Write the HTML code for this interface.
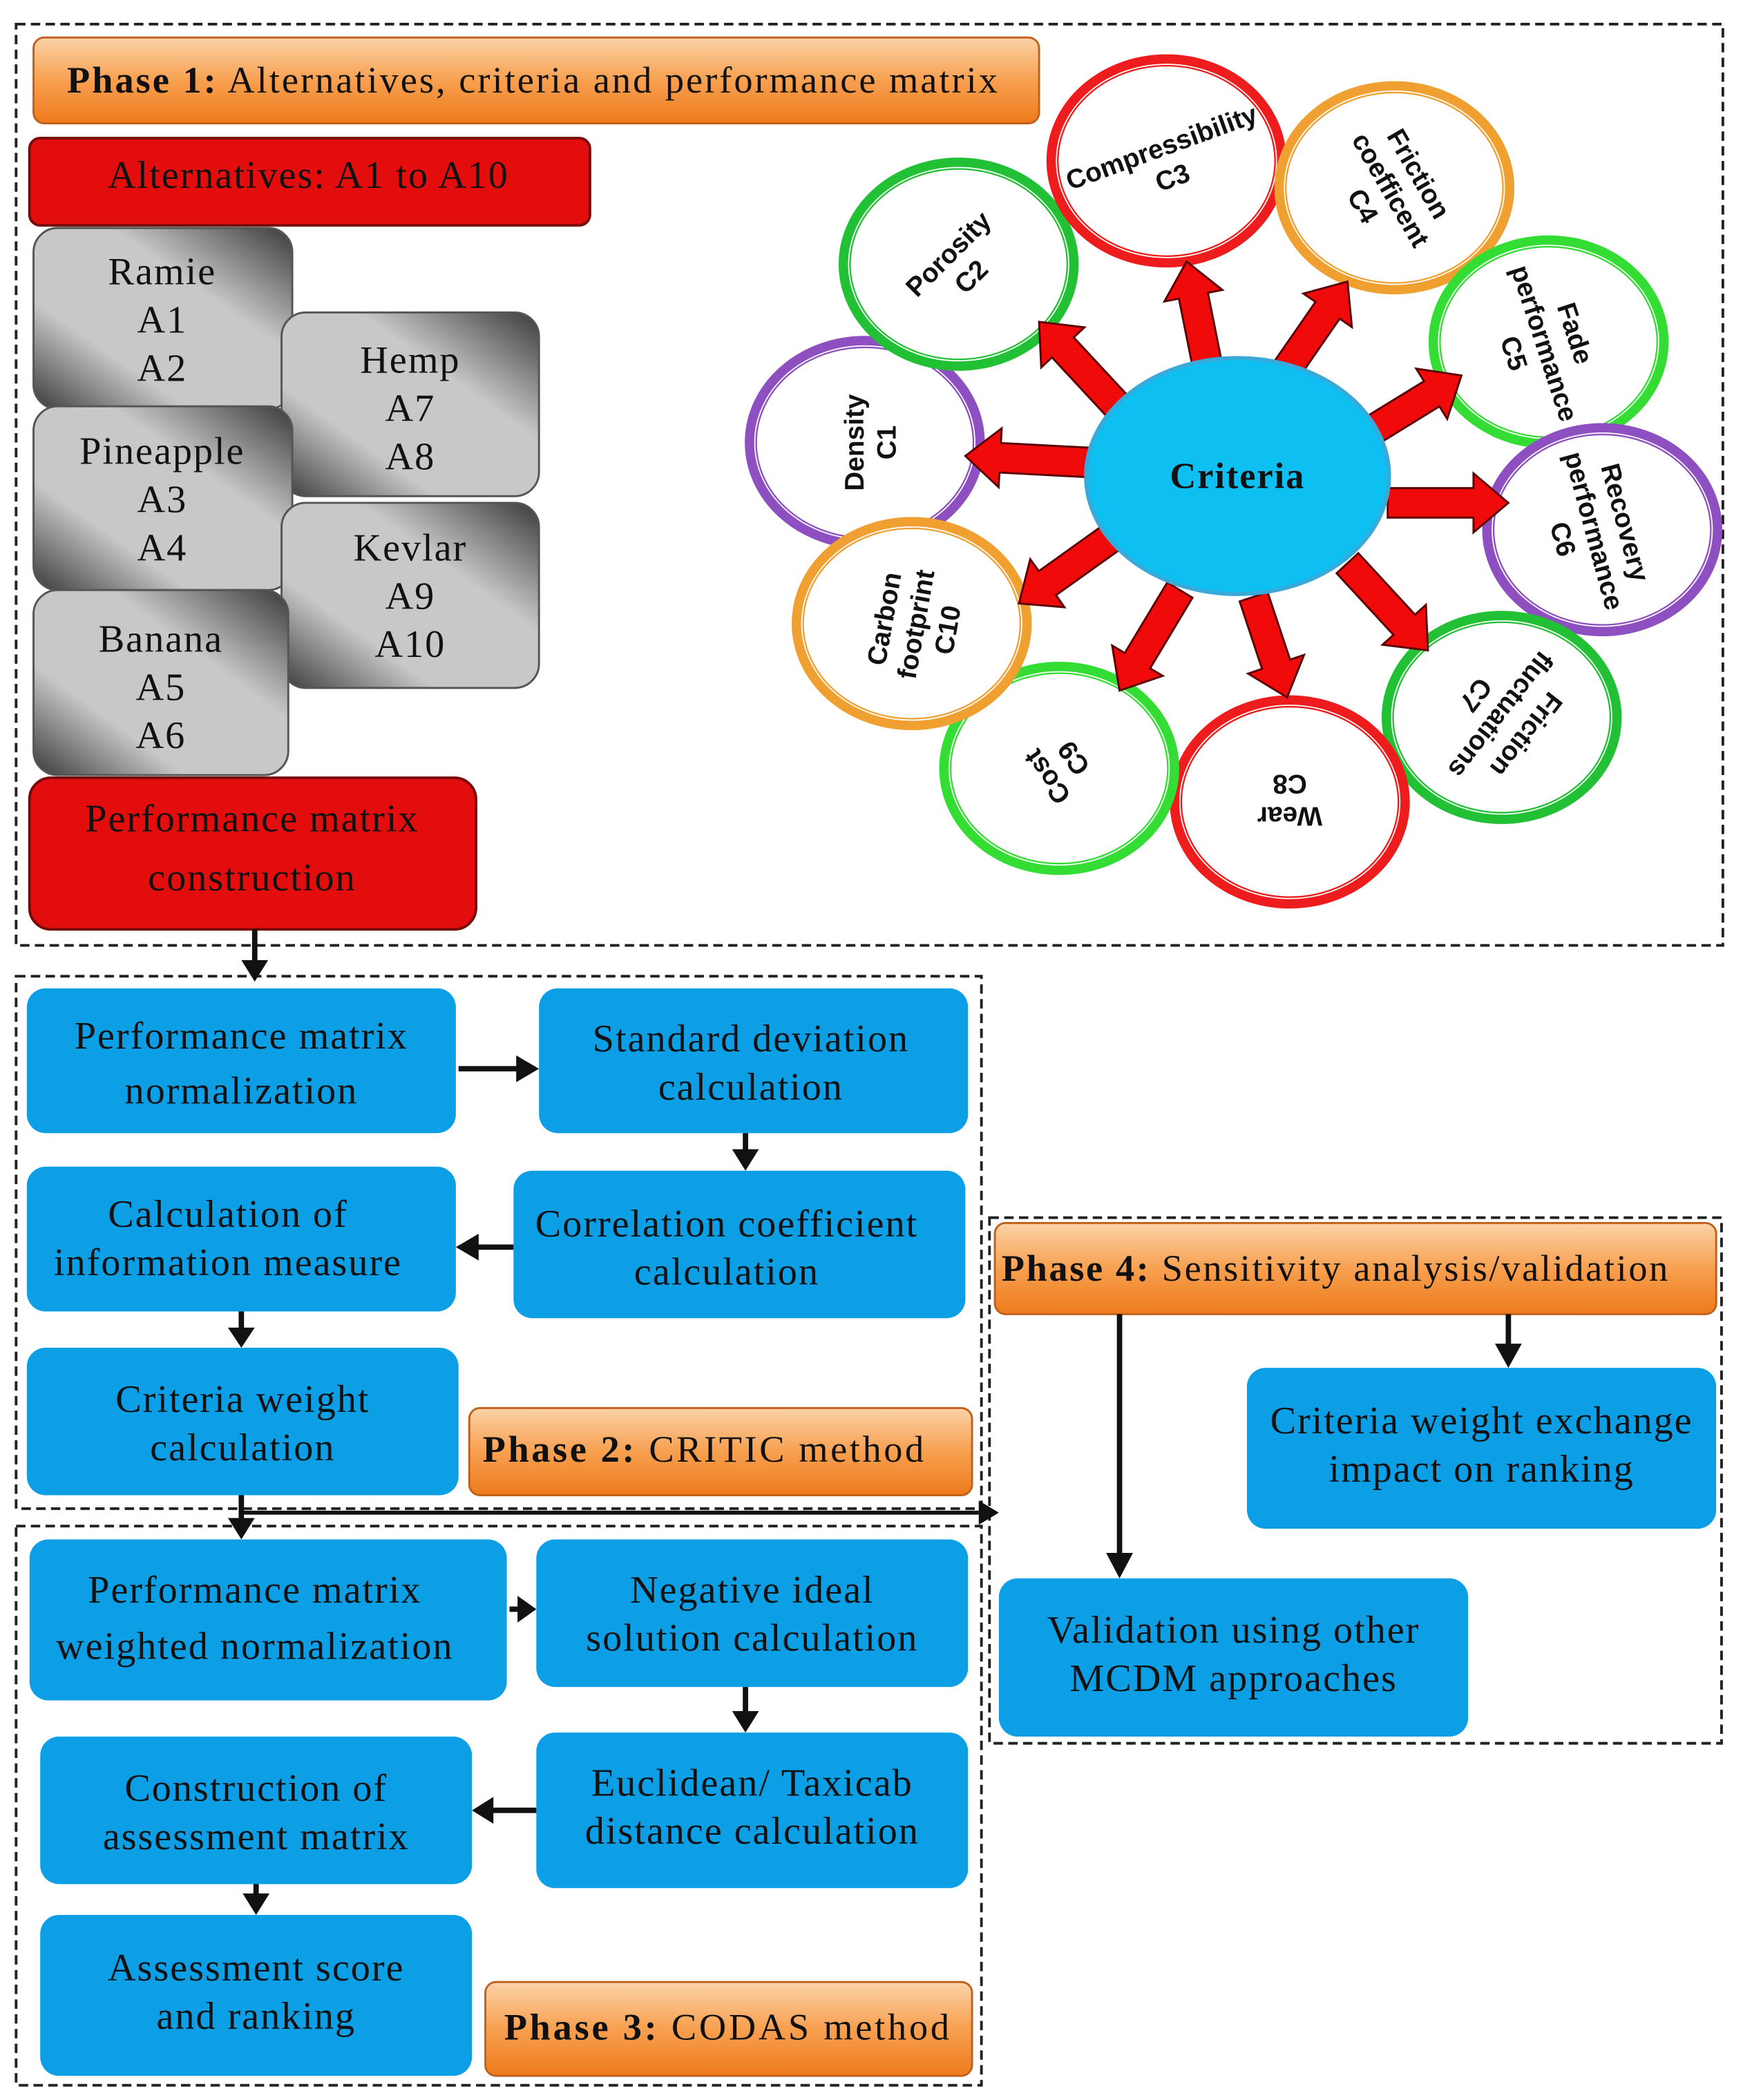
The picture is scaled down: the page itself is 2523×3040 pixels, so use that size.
<!DOCTYPE html>
<html><head><meta charset="utf-8"><style>html,body{margin:0;padding:0;background:#fff}svg{display:block}</style></head>
<body>
<svg id="s" xmlns="http://www.w3.org/2000/svg" width="2523" height="3040" viewBox="0 0 1300 1566" preserveAspectRatio="none">
<defs>
<linearGradient id="gr" x1="0" y1="1" x2="1" y2="0">
<stop offset="0" stop-color="#3a3a3a"/><stop offset="0.3" stop-color="#c8c8c8"/><stop offset="0.65" stop-color="#c8c8c8"/><stop offset="1" stop-color="#3a3a3a"/></linearGradient>
<linearGradient id="og" x1="0" y1="0" x2="0" y2="1">
<stop offset="0" stop-color="#fbd3a8"/><stop offset="0.5" stop-color="#f7a050"/><stop offset="1" stop-color="#ee7a1c"/></linearGradient>
</defs>
<style>
.sf{font-family:"Liberation Serif",serif;fill:#111;letter-spacing:1px}
.ss{font-family:"Liberation Sans",sans-serif;font-weight:bold;fill:#111}
.bl{fill:#0c9fe6}
.ds{fill:none;stroke:#222;stroke-width:2;stroke-dasharray:7,4}
</style>
<rect class="ds" x="12" y="18" width="1273" height="687"/>
<rect class="ds" x="12" y="728" width="720" height="397"/>
<rect class="ds" x="12" y="1138" width="720" height="417"/>
<rect class="ds" x="738" y="908" width="546" height="392"/>

<rect x="25" y="28" width="750" height="64" rx="8" fill="url(#og)" stroke="#c0601a" stroke-width="1.5"/>
<text class="sf" x="50" y="69" font-size="28" textLength="695" lengthAdjust="spacing"><tspan font-weight="bold">Phase 1:</tspan> Alternatives, criteria and performance matrix</text>
<rect x="22" y="103" width="418" height="65" rx="8" fill="#e30d0d" stroke="#7a0a0a" stroke-width="2"/>
<text class="sf" x="230" y="140" font-size="29" text-anchor="middle">Alternatives: A1 to A10</text>

<g stroke="#555" stroke-width="1.5" fill="url(#gr)">
<rect x="25" y="170" width="193" height="135" rx="18"/>
<rect x="210" y="233" width="192" height="137" rx="18"/>
<rect x="25" y="303" width="193" height="137" rx="18"/>
<rect x="210" y="375" width="192" height="138" rx="18"/>
<rect x="25" y="440" width="190" height="138" rx="18"/>
</g>
<g class="sf" font-size="29" text-anchor="middle">
<text x="121" y="212">Ramie</text><text x="121" y="248">A1</text><text x="121" y="284">A2</text>
<text x="306" y="278">Hemp</text><text x="306" y="314">A7</text><text x="306" y="350">A8</text>
<text x="121" y="346">Pineapple</text><text x="121" y="382">A3</text><text x="121" y="418">A4</text>
<text x="306" y="418">Kevlar</text><text x="306" y="454">A9</text><text x="306" y="490">A10</text>
<text x="120" y="486">Banana</text><text x="120" y="522">A5</text><text x="120" y="558">A6</text>
</g>
<rect x="22" y="580" width="333" height="113" rx="16" fill="#e30d0d" stroke="#7a0a0a" stroke-width="2"/>
<text class="sf" x="188" y="620" font-size="29" text-anchor="middle">Performance matrix</text>
<text class="sf" x="188" y="664" font-size="29" text-anchor="middle">construction</text>

<g id="circ"></g>
<g id="arr"></g>
<ellipse cx="923" cy="355" rx="113" ry="88" fill="#0ec0f2" stroke="#38a9d8" stroke-width="3"/>
<text class="sf" x="923" y="364" font-size="27" font-weight="bold" text-anchor="middle">Criteria</text>

<g class="ss" font-size="20" text-anchor="middle">
<g transform="translate(648,330) rotate(-90)"><text y="-4">Density</text><text y="20">C1</text></g>
<g transform="translate(715,197) rotate(-45)"><text y="-4">Porosity</text><text y="20">C2</text></g>
<g transform="translate(870,120) rotate(-20)"><text y="-4">Compressibility</text><text y="20">C3</text></g>
<g transform="translate(1040,140) rotate(60)"><text y="-14">Friction</text><text y="10">coefficent</text><text y="34">C4</text></g>
<g transform="translate(1155,255) rotate(72)"><text y="-14">Fade</text><text y="10">performance</text><text y="34">C5</text></g>
<g transform="translate(1192,395) rotate(75)"><text y="-14">Recovery</text><text y="10">performance</text><text y="34">C6</text></g>
<g transform="translate(1122,535) rotate(128)"><text y="-14">Friction</text><text y="10">fluctuations</text><text y="34">C7</text></g>
<g transform="translate(962,598) rotate(180)"><text y="-4">Wear</text><text y="20">C8</text></g>
<g transform="translate(790,573) rotate(-125)"><text y="-4">Cost</text><text y="20">C9</text></g>
<g transform="translate(680,465) rotate(-80)"><text y="-14">Carbon</text><text y="10">footprint</text><text y="34">C10</text></g>
</g>

<g class="bl">
<rect x="20" y="737" width="320" height="108" rx="14"/>
<rect x="402" y="737" width="320" height="108" rx="14"/>
<rect x="383" y="873" width="337" height="110" rx="14"/>
<rect x="20" y="870" width="320" height="108" rx="14"/>
<rect x="20" y="1005" width="322" height="110" rx="14"/>
<rect x="22" y="1148" width="356" height="120" rx="14"/>
<rect x="400" y="1148" width="322" height="110" rx="14"/>
<rect x="400" y="1292" width="322" height="116" rx="14"/>
<rect x="30" y="1295" width="322" height="110" rx="14"/>
<rect x="30" y="1428" width="322" height="120" rx="14"/>
<rect x="930" y="1020" width="350" height="120" rx="14"/>
<rect x="745" y="1177" width="350" height="118" rx="14"/>
</g>
<rect x="350" y="1050" width="375" height="65" rx="8" fill="url(#og)" stroke="#c0601a" stroke-width="1.5"/>
<rect x="362" y="1478" width="363" height="70" rx="8" fill="url(#og)" stroke="#c0601a" stroke-width="1.5"/>
<rect x="742" y="912" width="538" height="68" rx="8" fill="url(#og)" stroke="#c0601a" stroke-width="1.5"/>
<g class="sf" font-size="29" text-anchor="middle">
<text x="180" y="782">Performance matrix</text><text x="180" y="823">normalization</text>
<text x="560" y="784">Standard deviation</text><text x="560" y="820">calculation</text>
<text x="542" y="922">Correlation coefficient</text><text x="542" y="958">calculation</text>
<text x="170" y="915">Calculation of</text><text x="170" y="951">information measure</text>
<text x="181" y="1053">Criteria weight</text><text x="181" y="1089">calculation</text>
<text x="190" y="1195">Performance matrix</text><text x="190" y="1237">weighted normalization</text>
<text x="561" y="1195">Negative ideal</text><text x="561" y="1231">solution calculation</text>
<text x="561" y="1339">Euclidean/ Taxicab</text><text x="561" y="1375">distance calculation</text>
<text x="191" y="1343">Construction of</text><text x="191" y="1379">assessment matrix</text>
<text x="191" y="1477">Assessment score</text><text x="191" y="1513">and ranking</text>
<text x="1105" y="1069">Criteria weight exchange</text><text x="1105" y="1105">impact on ranking</text>
<text x="920" y="1225">Validation using other</text><text x="920" y="1261">MCDM approaches</text>
</g>
<g class="sf" font-size="28">
<text x="360" y="1090" textLength="330" lengthAdjust="spacing"><tspan font-weight="bold">Phase 2:</tspan> CRITIC method</text>
<text x="376" y="1521" textLength="333" lengthAdjust="spacing"><tspan font-weight="bold">Phase 3:</tspan> CODAS method</text>
<text x="747" y="955" textLength="498" lengthAdjust="spacing"><tspan font-weight="bold">Phase 4:</tspan> Sensitivity analysis/validation</text>
</g>

<g stroke="#111" stroke-width="4" fill="#111">
<line x1="190" y1="693" x2="190" y2="718"/><polygon points="180,716 200,716 190,732" stroke="none"/>
<line x1="342" y1="797" x2="388" y2="797"/><polygon points="385,787 385,807 402,797" stroke="none"/>
<line x1="556" y1="845" x2="556" y2="860"/><polygon points="546,857 566,857 556,873" stroke="none"/>
<line x1="383" y1="930" x2="355" y2="930"/><polygon points="357,920 357,940 340,930" stroke="none"/>
<line x1="180" y1="978" x2="180" y2="992"/><polygon points="170,990 190,990 180,1005" stroke="none"/>
<line x1="180" y1="1115" x2="180" y2="1134"/><polygon points="170,1132 190,1132 180,1148" stroke="none"/>
<line x1="380" y1="1200" x2="388" y2="1200"/><polygon points="386,1190 386,1210 400,1200" stroke="none"/>
<line x1="556" y1="1258" x2="556" y2="1278"/><polygon points="546,1276 566,1276 556,1292" stroke="none"/>
<line x1="400" y1="1350" x2="366" y2="1350"/><polygon points="368,1340 368,1360 352,1350" stroke="none"/>
<line x1="191" y1="1405" x2="191" y2="1414"/><polygon points="181,1412 201,1412 191,1428" stroke="none"/>
<line x1="180" y1="1128" x2="730" y2="1128" stroke-width="3"/><polygon points="730,1119 730,1137 745,1128" stroke="none"/>
<line x1="835" y1="980" x2="835" y2="1160"/><polygon points="825,1158 845,1158 835,1177" stroke="none"/>
<line x1="1125" y1="980" x2="1125" y2="1004"/><polygon points="1115,1002 1135,1002 1125,1020" stroke="none"/>
</g>

<script>
var NS="http://www.w3.org/2000/svg";
var C=[[645,330,"#8e4fc0"],[715,197,"#22c035"],[870,120,"#ee1c1c"],[1040,140,"#f0a030"],[1155,255,"#33dd33"],[1195,395,"#8e4fc0"],[1120,535,"#22c035"],[962,598,"#ee1c1c"],[790,573,"#33dd33"],[680,465,"#f0a030"]];
var g=document.getElementById("circ");
C.forEach(function(c){
 var e=document.createElementNS(NS,"ellipse");e.setAttribute("cx",c[0]);e.setAttribute("cy",c[1]);e.setAttribute("rx",86);e.setAttribute("ry",76);
 e.setAttribute("fill","#fff");e.setAttribute("stroke",c[2]);e.setAttribute("stroke-width",7);g.appendChild(e);
 var f=document.createElementNS(NS,"ellipse");f.setAttribute("cx",c[0]);f.setAttribute("cy",c[1]);f.setAttribute("rx",81);f.setAttribute("ry",71);
 f.setAttribute("fill","none");f.setAttribute("stroke",c[2]);f.setAttribute("stroke-width",1.2);g.appendChild(f);
});
var A=[[815,345,720,340],[840,310,775,240],[900,270,885,195],[960,275,1005,210],[1025,320,1090,280],[1035,375,1125,375],[1005,420,1065,485],[935,445,960,520],[880,440,835,515],[830,400,760,450]];
var ga=document.getElementById("arr");
A.forEach(function(a){
 var dx=a[2]-a[0],dy=a[3]-a[1],L=Math.sqrt(dx*dx+dy*dy),ux=dx/L,uy=dy/L,px=-uy,py=ux;
 var sw=11,hw=22,hl=26;
 function P(t,w){return (a[0]+ux*t+px*w).toFixed(1)+","+(a[1]+uy*t+py*w).toFixed(1);}
 var pts=[P(0,sw),P(L-hl,sw),P(L-hl,hw),P(L,0),P(L-hl,-hw),P(L-hl,-sw),P(0,-sw)].join(" ");
 var p=document.createElementNS(NS,"polygon");p.setAttribute("points",pts);p.setAttribute("fill","#f00a0a");p.setAttribute("stroke","#5a0000");p.setAttribute("stroke-width",1.5);ga.appendChild(p);
});
</script>
</svg>
</body></html>
